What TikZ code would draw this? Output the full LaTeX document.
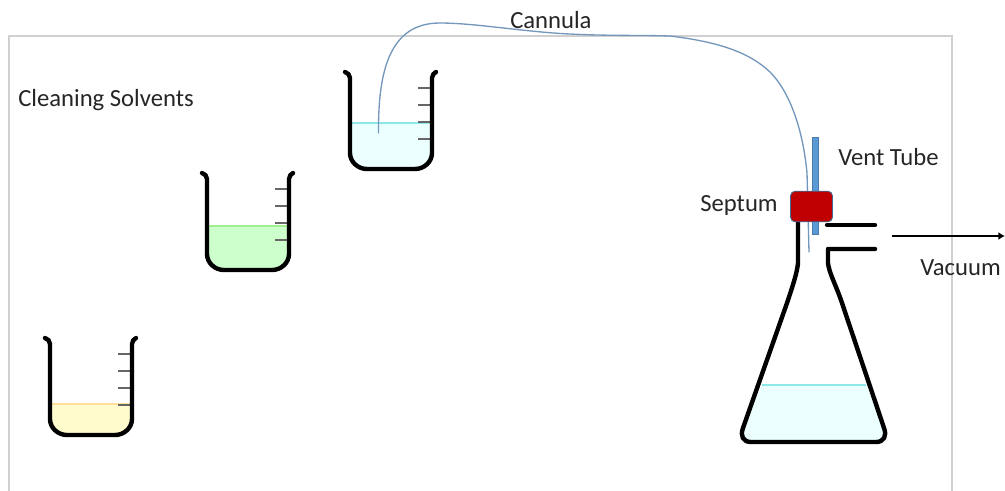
\documentclass[tikz,border=0pt]{standalone}
\usepackage{fontspec}
\usetikzlibrary{arrows.meta}
\setmainfont{Carlito}
\definecolor{tubeblue}{HTML}{7498BC}
\definecolor{ventblue}{HTML}{5B9BD5}
\definecolor{sept}{HTML}{C00000}
\definecolor{frameg}{HTML}{D0D0D0}
\definecolor{liqcyan}{HTML}{ECFFFF}
\definecolor{lincyan}{HTML}{8CE8E8}
\definecolor{liqgreen}{HTML}{CCFFCC}
\definecolor{lingreen}{HTML}{A0EE90}
\definecolor{liqyellow}{HTML}{FFFBCC}
\definecolor{linyellow}{HTML}{FFDF99}
\tikzset{
  x=0.75pt,y=-0.75pt,
  glass/.style={draw=black,line width=3.3pt,line cap=round,line join=round},
  tick/.style={draw=black!60,line width=1.6pt},
  lbl/.style={font=\fontsize{18.5}{22}\selectfont,text=black!85,inner sep=0pt},
  tube/.style={draw=tubeblue,line width=1pt,line cap=round},
  pics/beaker/.style n args={3}{code={
    \fill[#1] (-41,#3) -- (41,#3) -- (41,83) .. controls (41,92) and (32,97) .. (24,97) -- (-24,97)
       .. controls (-32,97) and (-41,92) .. (-41,83) -- cycle;
    \draw[#2,line width=1.6pt] (-41,#3) -- (41,#3);
    \foreach \ty in {16,33,50,67} \draw[tick] (27,\ty) -- (41,\ty);
    \draw[glass] (-46,0) .. controls (-43,1) and (-41,3) .. (-41,6) -- (-41,81)
       .. controls (-41,90) and (-33,97) .. (-24,97) -- (24,97)
       .. controls (33,97) and (41,90) .. (41,81) -- (41,6)
       .. controls (41,3) and (43,1) .. (45,0);
  }}
}
\begin{document}
\begin{tikzpicture}
\useasboundingbox (0,0) rectangle (1005,490);
\fill[white] (0,0) rectangle (1005,490);
\draw[frameg,line width=1pt] (9,495) -- (9,36) -- (952,36) -- (952,495);
% beakers
\pic at (391,72) {beaker={fill=liqcyan}{draw=lincyan}{51}};
\pic at (248,173) {beaker={fill=liqgreen}{draw=lingreen}{53}};
\pic at (91,338) {beaker={fill=liqyellow}{draw=linyellow}{66}};
% flask
\fill[liqcyan] (762,385) -- (866,385) -- (884,428) .. controls (887,436) and (884,441) .. (876,441)
   -- (751,441) .. controls (743,441) and (740,436) .. (743,428) -- cycle;
\draw[lincyan,line width=1.6pt] (762,385) -- (866,385);
\draw[glass] (798,222) -- (798,263) .. controls (797,273) and (793,285) .. (787,303) -- (743,428)
   .. controls (740,436) and (743,442) .. (751,442) -- (876,442)
   .. controls (884,442) and (887,436) .. (884,428)
   -- (842,303) .. controls (836,285) and (829,273) .. (828,263) -- (828,249) -- (875,249);
\draw[glass] (827,225) -- (875,225);
% vent tube and septum
\node[draw=ventblue!80!black,fill=ventblue,line width=0.5pt,minimum width=4.3pt,minimum height=72.5pt,inner sep=0pt,anchor=north] (vent) at (815,137) {};
\coordinate (canA) at (378.5,133);
\coordinate (canB) at (809,252);
\draw[tube] (canA) .. controls (378,70) and (390,23) .. (440,23)
  .. controls (475,23) and (525,32) .. (570,34)
  .. controls (610,36) and (640,35) .. (670,36)
  .. controls (720,42) and (750,53) .. (770,72)
  .. controls (790,92) and (803,130) .. (807,173) -- (canB);
\node[draw=ventblue!70!black,fill=sept,line width=0.6pt,rounded corners=3.5pt,minimum width=31.5pt,minimum height=23pt,inner sep=0pt] (septum) at (811.5,206.5) {};
% arrow
\coordinate (vacA) at (892,236);
\coordinate (vacB) at (1005,236);
\draw[black,line width=1.2pt,-{Latex[length=5pt,width=6pt]}] (vacA) -- (vacB);
% labels
\node[lbl,anchor=west] (clean) at (18,100) {Cleaning Solvents};
\node[lbl,anchor=west] (cann) at (510,20) {Cannula};
\node[lbl,anchor=west] (ventl) at (838,157.5) {Vent Tube};
\node[lbl,anchor=west] (septl) at (700,205) {Septum};
\node[lbl,anchor=west] (vacl) at (920,268) {Vacuum};
\end{tikzpicture}
\end{document}
